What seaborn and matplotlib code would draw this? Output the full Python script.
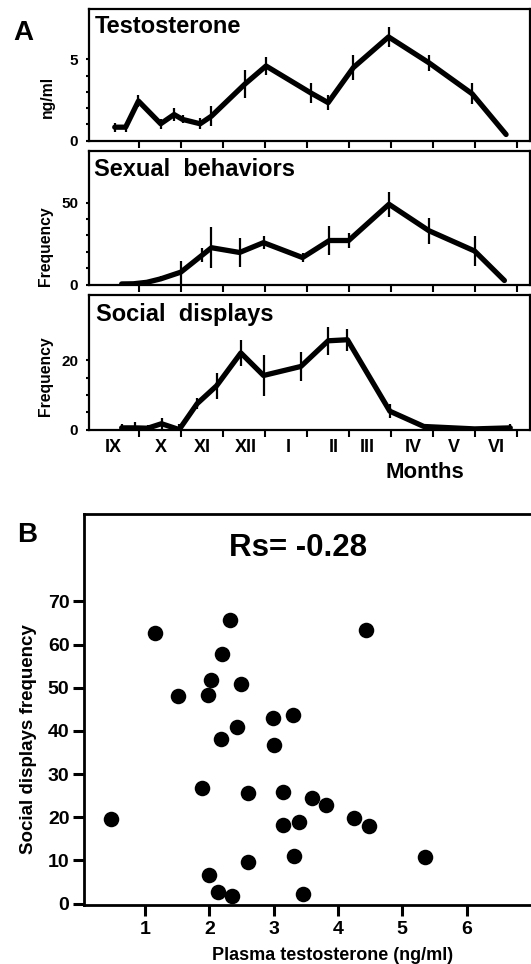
import matplotlib
matplotlib.use("Agg")
import matplotlib.pyplot as plt
import seaborn as sns
import numpy as np
import pandas as pd

# ---------------- data ----------------
month_labels = ["IX", "X", "XI", "XII", "I", "II", "III", "IV", "V", "VI"]
month_label_pos = [0.40, 1.53, 2.52, 3.55, 4.55, 5.64, 6.45, 7.54, 8.51, 9.52]
month_bounds = [1, 2, 3, 4, 5, 6, 7, 8, 9, 10]

testo_x = [0.425, 0.685, 0.99, 1.52, 1.84, 2.04, 2.46, 2.73, 3.52, 4.03, 5.09, 5.51, 6.11, 6.95, 7.91, 8.94, 9.75]
testo_y = [0.82, 0.82, 2.43, 1.03, 1.6, 1.3, 1.03, 1.5, 3.46, 4.59, 2.94, 2.33, 4.49, 6.38, 4.79, 2.88, 0.37]
testo_err = [0.28, 0.28, 0.35, 0.3, 0.4, 0.25, 0.35, 0.6, 0.87, 0.55, 0.6, 0.45, 0.77, 0.6, 0.5, 0.65, 0.1]

sex_x = [0.59, 0.87, 1.19, 1.52, 2.0, 2.51, 2.73, 3.40, 3.97, 4.90, 5.54, 6.00, 6.96, 7.91, 9.0, 9.71]
sex_y = [0.4, 0.5, 1.4, 3.5, 7.6, 18, 22.5, 19.6, 25.6, 16.5, 26.9, 26.9, 49, 32.9, 20.5, 2.5]
sex_err = [1, 1, 1.5, 1.5, 7, 4.5, 12.4, 9, 4, 3, 9, 4.5, 7.5, 8, 9, 0.5]

soc_x = [0.59, 0.90, 1.21, 1.54, 1.96, 2.39, 2.85, 3.43, 3.97, 4.86, 5.51, 5.97, 6.98, 7.79, 9.0, 9.85]
soc_y = [0.5, 0.5, 0.4, 1.7, 0, 7.5, 12.6, 22.1, 15.6, 18.2, 25.6, 25.9, 5.3, 0.9, 0.2, 0.5]
soc_err = [1, 1.7, 1, 1.5, 1.5, 1.5, 3.8, 3.8, 6, 4.1, 4.1, 3.2, 2, 0.5, 0.2, 1]

plasma_t = [1.16, 2.32, 4.44, 2.19, 2.03, 2.49, 1.52, 1.98, 2.99, 3.30, 2.43, 2.18, 3.00, 1.89, 2.60,
            3.15, 3.60, 3.82, 0.47, 4.25, 3.14, 3.39, 4.49, 5.36, 3.31, 2.60, 2.00, 2.13, 2.35, 3.46]
display_freq = [62.6, 65.7, 63.4, 57.8, 51.8, 50.8, 48.1, 48.3, 42.9, 43.7, 40.8, 38.2, 36.7, 26.8, 25.7,
                25.9, 24.5, 22.8, 19.7, 19.8, 18.1, 18.9, 17.9, 10.9, 11.1, 9.6, 6.7, 2.6, 1.8, 2.2]

# ---------------- style ----------------
sns.set_theme(style="ticks")
plt.rcParams["font.family"] = ["Liberation Sans", "DejaVu Sans"]
plt.rcParams["font.weight"] = "bold"
plt.rcParams["axes.labelweight"] = "bold"
plt.rcParams["text.color"] = "black"
plt.rcParams["axes.labelcolor"] = "black"
plt.rcParams["xtick.color"] = "black"
plt.rcParams["ytick.color"] = "black"
plt.rcParams["axes.edgecolor"] = "black"

W, H = 531, 964
fig = plt.figure(figsize=(W / 100, H / 100), dpi=100)


def rect(left, top, right, bottom):
    return [left / W, 1 - bottom / H, (right - left) / W, (bottom - top) / H]


def ftext(x, y, s, **kw):
    fig.text(x / W, 1 - y / H, s, fontweight="bold", color="black", **kw)


panels = [
    (rect(88.5, 8.5, 530, 140.5), testo_x, testo_y, testo_err, (0, 8.13), [0, 5], [1, 2, 3, 4]),
    (rect(88.5, 151, 530, 284.6), sex_x, sex_y, sex_err, (0, 81.5), [0, 50], [10, 20, 30, 40]),
    (rect(88.5, 295, 530, 429.6), soc_x, soc_y, soc_err, (0, 38.8), [0, 20], [5, 10, 15]),
]

axes = []
for i, (r, xs, ys, es, ylim, ymaj, ymin) in enumerate(panels):
    ax = fig.add_axes(r)
    df = pd.DataFrame({"month": xs, "value": ys})
    ax.errorbar(xs, ys, yerr=es, fmt="none", ecolor="black", elinewidth=1.6, capsize=0, zorder=2)
    sns.lineplot(data=df, x="month", y="value", ax=ax, color="black", linewidth=3.8,
                 estimator=None, sort=False, zorder=3)
    ax.set_xlim(-0.2, 10.32)
    ax.set_ylim(*ylim)
    ax.set_xlabel("")
    ax.set_ylabel("")
    ax.set_yticks(ymaj)
    ax.set_yticks(ymin, minor=True)
    ax.set_yticklabels([str(v) for v in ymaj], fontsize=11, fontweight="bold")
    ax.tick_params(axis="y", which="both", direction="out", length=2.5, width=1.5, pad=5,
                   color="black", labelcolor="black")
    ax.set_xticks(month_bounds)
    ax.set_xticklabels([])
    ax.tick_params(axis="x", which="major", direction="out", length=5, width=1.5, color="black")
    for sp in ax.spines.values():
        sp.set_visible(True)
        sp.set_linewidth(1.6)
        sp.set_color("black")
    axes.append(ax)

ax3 = axes[2]
ax3.set_xticks(month_label_pos, minor=True)
ax3.set_xticklabels(month_labels, minor=True, fontsize=13, fontweight="bold")
ax3.tick_params(axis="x", which="minor", length=0, pad=6.5, labelcolor="black")

ftext(94.8, 32.8, "Testosterone", fontsize=17, ha="left", va="baseline")
ftext(94.1, 175.6, "Sexual  behaviors", fontsize=17, ha="left", va="baseline")
ftext(95.5, 320.6, "Social  displays", fontsize=17, ha="left", va="baseline")
ftext(47, 97.4, "ng/ml", fontsize=11.3, rotation=90, ha="center", va="center")
ftext(45.7, 245.8, "Frequency", fontsize=11.3, rotation=90, ha="center", va="center")
ftext(45.7, 376.4, "Frequency", fontsize=11.3, rotation=90, ha="center", va="center")
ftext(425, 478, "Months", fontsize=16, ha="center", va="baseline")
ftext(13.5, 40, "A", fontsize=20, ha="left", va="baseline")
ftext(17, 542, "B", fontsize=20, ha="left", va="baseline")

# ---------------- panel B ----------------
axb = fig.add_axes(rect(84, 514.2, 531, 904.5))
dfb = pd.DataFrame({"t": plasma_t, "f": display_freq})
sns.scatterplot(data=dfb, x="t", y="f", ax=axb, color="black", s=125, edgecolor="black",
                linewidth=0, zorder=3)
axb.set_xlim(0.053, 7.0)
axb.set_ylim(-0.2, 90.2)
axb.set_xticks([1, 2, 3, 4, 5, 6])
axb.set_yticks([0, 10, 20, 30, 40, 50, 60, 70])
axb.set_xticklabels(["1", "2", "3", "4", "5", "6"], fontsize=14, fontweight="bold")
axb.set_yticklabels([str(v) for v in [0, 10, 20, 30, 40, 50, 60, 70]], fontsize=14, fontweight="bold")
axb.tick_params(axis="both", direction="out", length=8, width=2.2, color="black", labelcolor="black")
axb.tick_params(axis="y", pad=2.5)
axb.tick_params(axis="x", pad=4)
axb.set_xlabel("")
axb.set_ylabel("")
for name, sp in axb.spines.items():
    sp.set_linewidth(2.0)
    sp.set_color("black")
axb.spines["right"].set_visible(False)

ftext(298, 556, "Rs= -0.28", fontsize=22.5, ha="center", va="baseline")
ftext(28.8, 739.5, "Social displays frequency", fontsize=13.5, rotation=90, ha="center", va="center")
ftext(333, 960, "Plasma testosterone (ng/ml)", fontsize=13, ha="center", va="baseline")

fig.savefig("out.png", dpi=100, facecolor="white")
